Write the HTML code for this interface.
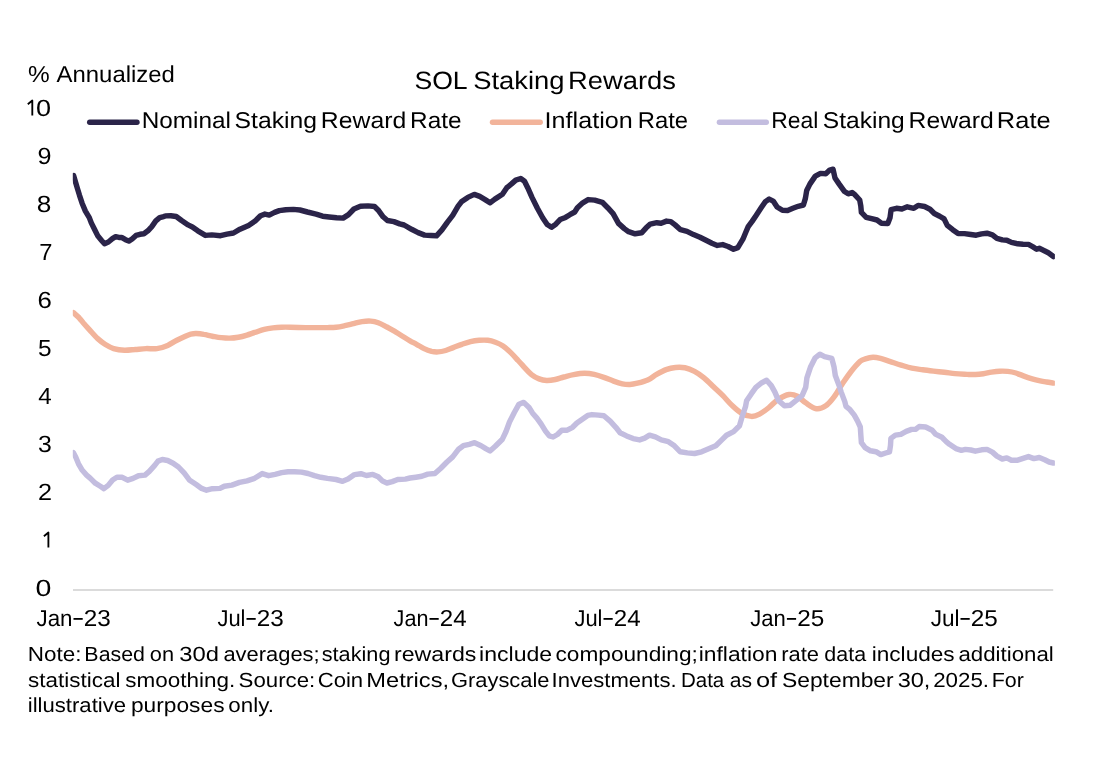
<!DOCTYPE html>
<html><head><meta charset="utf-8"><style>
html,body{margin:0;padding:0;background:#fff;}
svg{display:block;}
text{font-family:"Liberation Sans",sans-serif;fill:#000000;text-rendering:geometricPrecision;}
</style></head><body>
<svg width="1110" height="760" viewBox="0 0 1110 760">
<rect width="1110" height="760" fill="#fff"/>
<line x1="73" y1="590" x2="1053.2" y2="590" stroke="#dbdbdb" stroke-width="2"/>
<g fill="none" stroke-width="5.4" stroke-linecap="round">
<line x1="89.7" y1="122.3" x2="137" y2="122.3" stroke="#2b2449"/>
<line x1="492.5" y1="122.3" x2="540.2" y2="122.3" stroke="#f2b49b"/>
<line x1="719.4" y1="122.3" x2="766.3" y2="122.3" stroke="#c3bddf"/>
</g>
<clipPath id="pc"><rect x="72.8" y="0" width="982.1" height="760"/></clipPath>
<g fill="none" stroke-width="5.45" stroke-linejoin="round" stroke-linecap="round" clip-path="url(#pc)">
<path d="M73.3,312.6 C74.3,313.5 77.2,315.9 79.1,317.8 C81.0,319.8 82.5,322.0 84.5,324.3 C86.5,326.6 88.8,329.0 90.9,331.4 C93.1,333.8 95.1,336.2 97.4,338.4 C99.8,340.5 102.3,342.6 105.0,344.3 C107.7,346.0 110.3,347.6 113.6,348.6 C116.8,349.6 120.9,350.2 124.5,350.3 C128.1,350.4 131.7,349.8 135.3,349.5 C138.9,349.2 142.5,348.8 146.1,348.6 C149.7,348.5 153.3,349.1 156.9,348.6 C160.5,348.1 164.4,346.8 167.7,345.4 C170.9,344.0 173.4,342.0 176.4,340.5 C179.4,339.0 183.0,337.3 185.4,336.2 C187.8,335.1 189.0,334.6 190.8,334.1 C192.6,333.7 194.0,333.4 196.2,333.5 C198.4,333.6 201.1,333.9 203.8,334.4 C206.5,334.8 209.5,335.7 212.4,336.2 C215.3,336.7 218.2,337.3 221.1,337.6 C224.0,337.9 226.8,338.2 229.7,338.1 C232.6,338.1 235.5,337.8 238.4,337.3 C241.3,336.8 244.1,336.0 247.0,335.1 C249.9,334.2 252.8,333.1 255.7,332.2 C258.6,331.2 261.4,330.1 264.3,329.4 C267.2,328.7 270.1,328.3 273.0,327.9 C275.9,327.5 278.7,327.3 281.6,327.2 C284.5,327.1 286.3,327.1 290.3,327.2 C294.3,327.3 301.4,327.5 305.8,327.6 C310.2,327.7 313.0,327.6 316.6,327.6 C320.2,327.6 324.1,327.7 327.4,327.6 C330.6,327.5 333.2,327.5 336.1,327.2 C339.0,326.9 341.8,326.3 344.7,325.7 C347.6,325.1 350.5,324.3 353.4,323.6 C356.3,322.9 359.1,322.0 362.0,321.6 C364.9,321.2 368.0,320.9 370.7,321.1 C373.4,321.3 375.5,321.7 378.2,322.7 C380.9,323.7 384.0,325.5 386.9,327.0 C389.8,328.5 392.6,330.2 395.5,331.9 C398.4,333.6 401.8,335.8 404.2,337.3 C406.6,338.8 407.9,339.6 410.0,340.8 C412.1,342.0 414.1,343.0 416.5,344.3 C418.9,345.6 421.6,347.4 424.1,348.6 C426.6,349.8 429.3,350.8 431.6,351.4 C433.9,351.9 435.8,352.0 438.1,351.9 C440.5,351.8 443.2,351.2 445.7,350.5 C448.2,349.8 450.5,348.6 453.2,347.6 C455.9,346.6 459.0,345.3 461.9,344.3 C464.8,343.3 467.6,342.3 470.5,341.6 C473.4,340.9 476.3,340.5 479.2,340.3 C482.1,340.1 485.1,340.0 487.8,340.3 C490.5,340.6 492.9,341.3 495.4,342.2 C497.9,343.1 500.5,344.2 503.0,345.9 C505.5,347.6 508.0,350.0 510.5,352.4 C513.0,354.8 515.8,358.0 518.1,360.5 C520.5,363.0 522.4,365.2 524.6,367.6 C526.8,370.0 529.1,372.7 531.5,374.6 C533.9,376.5 536.6,377.9 539.1,378.9 C541.6,379.9 543.9,380.4 546.6,380.5 C549.3,380.6 552.4,380.1 555.3,379.5 C558.2,378.9 560.8,377.8 563.9,377.0 C567.0,376.2 570.2,375.2 573.6,374.6 C577.0,374.0 581.1,373.3 584.5,373.3 C587.9,373.3 591.0,373.7 594.2,374.4 C597.4,375.1 600.7,376.2 603.9,377.3 C607.1,378.4 610.5,380.0 613.6,381.1 C616.7,382.2 619.6,383.2 622.3,383.8 C625.0,384.4 627.4,384.6 629.9,384.5 C632.4,384.4 634.3,384.0 637.4,383.2 C640.5,382.4 645.1,381.2 648.3,379.7 C651.5,378.2 653.6,376.1 656.6,374.4 C659.6,372.7 663.0,370.8 666.1,369.6 C669.2,368.5 672.4,367.8 675.5,367.5 C678.6,367.2 681.8,367.2 685.0,367.8 C688.2,368.4 691.3,369.7 694.5,371.4 C697.7,373.1 700.8,375.3 704.0,377.9 C707.2,380.5 710.4,383.8 713.5,386.8 C716.6,389.8 719.8,392.5 722.9,395.7 C726.0,398.9 729.2,402.8 732.4,405.8 C735.6,408.8 738.7,411.7 741.9,413.5 C745.1,415.3 748.5,416.3 751.4,416.4 C754.3,416.5 756.6,415.6 759.5,414.1 C762.4,412.6 765.9,410.0 769.0,407.5 C772.1,405.0 775.0,401.4 778.4,399.2 C781.8,397.0 785.9,395.0 789.1,394.5 C792.3,394.0 794.6,394.9 797.4,396.3 C800.2,397.7 802.5,400.7 805.7,402.8 C808.9,404.9 813.0,408.2 816.4,408.7 C819.8,409.2 822.8,407.8 825.8,405.8 C828.8,403.8 831.3,400.6 834.1,396.9 C836.9,393.2 839.6,387.9 842.4,383.8 C845.2,379.7 847.7,375.8 850.7,372.0 C853.7,368.2 857.8,363.5 860.2,361.3 C862.7,359.1 863.3,359.6 865.4,358.9 C867.5,358.2 870.5,357.4 873.0,357.3 C875.5,357.2 877.6,357.7 880.5,358.4 C883.4,359.1 886.9,360.5 890.3,361.6 C893.7,362.7 897.5,364.0 901.1,365.1 C904.7,366.2 908.3,367.4 911.9,368.2 C915.5,369.0 919.1,369.3 922.7,369.8 C926.3,370.3 929.9,370.7 933.5,371.1 C937.1,371.5 940.7,371.9 944.3,372.3 C947.9,372.7 951.3,373.2 955.1,373.6 C958.9,374.0 963.8,374.2 967.2,374.4 C970.6,374.5 972.6,374.6 975.3,374.5 C978.0,374.4 980.7,374.1 983.4,373.7 C986.1,373.3 988.8,372.5 991.5,372.1 C994.2,371.7 996.9,371.3 999.6,371.2 C1002.3,371.1 1005.0,371.1 1007.7,371.4 C1010.4,371.7 1013.2,372.2 1015.9,373.0 C1018.6,373.8 1021.3,375.1 1024.0,376.1 C1026.7,377.1 1029.4,378.0 1032.1,378.8 C1034.8,379.6 1037.8,380.3 1040.2,380.8 C1042.6,381.3 1044.3,381.6 1046.5,382.0 C1048.7,382.4 1052.2,382.9 1053.4,383.1" stroke="#f2b49b"/>
<path d="M73.3,452.6 L75.8,457.3 L78.5,463.8 L82.3,470.3 L86.6,475.1 L90.4,478.4 L95.3,483.2 L100.7,486.5 L103.9,488.6 L108.2,485.4 L112.6,480.0 L116.9,477.3 L122.3,477.3 L127.7,480.2 L133.1,478.4 L138.5,475.7 L145.0,475.1 L149.3,471.4 L154.7,465.4 L158.0,461.1 L162.3,459.5 L167.7,460.5 L173.1,463.2 L178.5,467.0 L184.3,473.2 L189.7,480.3 L196.2,484.6 L201.6,488.4 L206.5,490.2 L212.4,488.7 L220.0,488.4 L224.3,486.2 L231.9,485.1 L239.5,482.4 L247.0,480.8 L254.6,478.3 L262.2,473.6 L268.6,475.7 L275.1,474.3 L281.6,472.6 L288.1,471.7 L294.6,471.8 L301.5,472.1 L308.0,473.5 L314.5,475.7 L320.9,477.3 L327.4,478.4 L336.1,479.5 L342.6,481.3 L348.0,479.1 L354.5,474.6 L360.9,473.7 L366.4,475.5 L372.8,474.4 L378.2,476.8 L382.6,481.1 L386.9,483.0 L392.3,481.6 L397.7,479.5 L405.3,479.1 L410.0,478.0 L415.9,477.2 L421.8,476.3 L427.8,474.1 L434.9,473.5 L440.8,468.2 L446.7,462.3 L452.7,456.9 L458.6,449.2 L463.3,445.7 L469.2,444.3 L474.6,442.7 L481.1,445.7 L485.8,448.6 L490.0,451.0 L495.3,446.3 L502.4,439.2 L506.0,431.5 L509.5,422.0 L514.3,412.5 L519.0,404.2 L523.7,402.4 L529.3,407.8 L532.6,413.2 L536.9,418.1 L541.2,424.1 L545.5,431.1 L549.3,435.9 L553.1,437.0 L557.4,434.5 L561.8,430.2 L567.2,430.2 L572.6,427.3 L576.9,423.0 L582.3,419.2 L587.7,415.4 L592.0,414.6 L598.5,415.1 L603.9,415.7 L610.4,421.4 L615.8,427.3 L620.1,432.7 L626.6,435.9 L633.1,438.6 L639.6,439.9 L644.7,438.1 L649.5,435.2 L655.4,436.9 L661.3,439.9 L668.4,441.7 L674.4,445.8 L680.3,451.8 L687.4,452.9 L694.5,453.5 L701.6,451.8 L708.7,448.8 L715.8,445.8 L721.8,439.9 L726.5,435.2 L733.6,431.6 L739.5,425.7 L741.9,417.4 L745.5,406.7 L746.6,400.8 L751.4,393.7 L755.9,387.4 L761.8,382.7 L766.6,380.3 L771.3,385.6 L774.9,392.1 L778.4,400.4 L784.4,405.8 L790.3,405.2 L796.2,400.4 L802.1,395.7 L805.7,387.4 L806.9,377.9 L810.4,367.3 L815.2,357.8 L819.9,354.2 L824.6,356.6 L831.8,358.4 L834.1,367.3 L835.3,375.5 L838.9,385.0 L841.2,392.1 L844.8,401.6 L846.0,406.4 L850.0,409.7 L854.3,415.1 L857.6,421.1 L860.3,427.0 L860.8,434.6 L861.4,442.7 L865.1,447.6 L870.5,450.8 L876.0,451.7 L880.8,454.6 L885.7,453.0 L889.5,451.9 L890.5,445.4 L890.9,438.4 L895.4,435.1 L900.8,434.4 L906.2,431.4 L911.6,429.4 L915.9,429.2 L919.2,426.5 L925.7,427.0 L932.2,430.3 L935.4,434.1 L941.9,437.3 L946.2,441.6 L949.5,444.3 L955.9,448.6 L961.4,450.3 L965.4,449.4 L970.8,450.0 L975.3,451.2 L981.6,449.8 L987.0,449.4 L992.4,452.1 L996.9,456.1 L1002.3,459.0 L1006.8,457.9 L1011.4,460.2 L1017.7,460.2 L1023.1,458.4 L1028.5,456.6 L1033.9,458.6 L1039.3,457.5 L1044.7,459.7 L1049.2,462.0 L1053.4,463.0" stroke="#c3bddf"/>
<path d="M73.6,175.5 L75.5,182.1 L77.5,188.7 L79.5,195.3 L82.1,203.2 L85.4,211.1 L89.3,217.6 L91.3,222.9 L94.6,229.5 L97.9,236.1 L101.8,240.7 L104.5,243.7 L108.4,242.0 L112.4,238.7 L115.7,236.7 L118.9,237.4 L121.6,237.4 L125.5,239.7 L128.8,241.1 L132.1,239.0 L136.0,235.4 L140.0,234.3 L143.9,233.7 L147.9,230.8 L151.8,226.6 L155.8,220.9 L159.7,217.6 L163.7,216.6 L165.4,215.9 L170.8,215.7 L176.2,216.5 L181.6,220.5 L188.1,224.9 L192.4,227.0 L197.8,230.8 L205.4,235.4 L211.9,234.9 L220.5,235.7 L227.0,234.1 L233.5,233.0 L240.0,229.2 L248.6,225.4 L255.1,221.1 L260.5,215.7 L264.9,214.1 L269.2,215.1 L274.6,212.4 L279.3,210.6 L285.8,209.8 L293.4,209.4 L299.9,210.0 L307.4,212.0 L316.1,214.1 L322.6,216.2 L329.1,217.0 L336.6,217.8 L343.1,218.1 L348.5,214.6 L353.9,209.0 L360.4,206.3 L368.0,205.9 L374.5,206.5 L378.8,210.8 L383.1,216.8 L387.4,220.5 L393.9,221.6 L399.7,223.9 L404.1,225.0 L411.6,229.3 L418.1,232.6 L424.6,235.1 L431.1,235.5 L436.5,235.8 L441.9,229.9 L447.3,222.3 L452.7,215.3 L458.1,206.1 L461.4,201.8 L467.8,197.4 L474.3,194.4 L479.7,196.4 L485.1,199.6 L490.0,202.8 L494.9,199.1 L502.4,194.2 L506.8,187.7 L508.2,186.6 L511.5,183.9 L515.8,180.1 L520.7,178.5 L524.5,181.2 L527.7,187.7 L532.0,197.4 L537.4,208.2 L542.8,218.0 L547.2,224.5 L551.5,227.2 L555.8,224.2 L560.1,219.6 L565.5,217.4 L569.9,214.7 L574.7,212.0 L577.4,207.7 L582.8,202.8 L588.2,199.6 L594.7,200.1 L602.3,202.3 L607.7,207.7 L613.1,213.6 L618.5,223.4 L624.3,228.6 L628.6,231.7 L635.1,233.8 L641.6,232.8 L645.9,228.1 L650.3,224.1 L656.8,222.7 L661.1,223.2 L666.5,221.1 L670.8,221.6 L675.1,224.9 L680.5,229.7 L687.0,231.4 L693.5,234.6 L700.0,237.3 L706.5,240.5 L711.9,243.2 L717.3,245.4 L722.7,244.6 L728.1,246.5 L733.5,249.2 L737.8,247.6 L742.9,239.2 L746.2,231.3 L748.2,226.7 L752.1,221.4 L756.1,215.5 L761.3,207.6 L765.3,201.7 L769.2,199.1 L773.2,201.1 L777.1,207.0 L782.4,210.3 L787.6,210.5 L792.9,208.3 L798.2,206.3 L803.4,205.0 L805.4,198.4 L806.7,190.5 L810.0,183.9 L815.3,176.1 L820.5,173.4 L825.8,173.7 L829.7,170.1 L833.0,169.2 L835.0,178.0 L839.0,183.9 L844.2,191.2 L848.2,193.8 L852.1,192.5 L854.3,194.1 L859.7,200.0 L860.8,206.0 L861.4,212.4 L866.2,217.3 L871.6,218.7 L877.0,220.0 L881.4,223.2 L887.8,223.5 L890.0,217.8 L891.1,209.7 L896.5,208.3 L901.9,209.0 L907.3,206.8 L913.8,208.3 L918.1,205.4 L924.6,206.5 L930.0,209.2 L934.3,213.5 L939.7,216.2 L944.1,218.9 L947.3,225.4 L952.7,229.7 L958.1,233.5 L964.5,233.6 L970.8,234.5 L976.2,235.2 L981.6,233.9 L987.0,233.2 L992.4,234.8 L996.9,238.4 L1002.3,239.9 L1006.8,240.2 L1011.4,242.4 L1017.7,243.8 L1023.1,244.2 L1028.5,244.4 L1033.0,246.9 L1036.6,249.2 L1039.3,248.3 L1043.8,250.5 L1048.3,252.8 L1053.4,256.5" stroke="#2b2449"/>
</g>
<g style="filter:grayscale(1)">
<text x="27.95" y="81.60" font-size="23.0" textLength="21.69" lengthAdjust="spacingAndGlyphs">%</text>
<text x="56.60" y="81.60" font-size="23.0" textLength="118.24" lengthAdjust="spacingAndGlyphs">Annualized</text>
<text x="414.40" y="88.90" font-size="25.1" textLength="53.22" lengthAdjust="spacingAndGlyphs">SOL</text>
<text x="473.17" y="88.90" font-size="25.1" textLength="91.33" lengthAdjust="spacingAndGlyphs">Staking</text>
<text x="568.01" y="88.90" font-size="25.1" textLength="107.87" lengthAdjust="spacingAndGlyphs">Rewards</text>
<path d="M27.80,104.20 L32.30,100.50 L32.30,115.40" fill="none" stroke="#000000" stroke-width="1.85" stroke-linejoin="round"/>
<text x="35.92" y="115.70" font-size="23.4" textLength="15.06" lengthAdjust="spacingAndGlyphs">0</text>
<text x="37.47" y="163.70" font-size="23.4" textLength="13.99" lengthAdjust="spacingAndGlyphs">9</text>
<text x="36.72" y="211.70" font-size="23.4" textLength="14.56" lengthAdjust="spacingAndGlyphs">8</text>
<text x="39.21" y="259.70" font-size="23.4" textLength="13.20" lengthAdjust="spacingAndGlyphs">7</text>
<text x="37.41" y="307.70" font-size="23.4" textLength="14.35" lengthAdjust="spacingAndGlyphs">6</text>
<text x="37.92" y="355.70" font-size="23.4" textLength="13.58" lengthAdjust="spacingAndGlyphs">5</text>
<text x="38.22" y="403.70" font-size="23.4" textLength="13.44" lengthAdjust="spacingAndGlyphs">4</text>
<text x="38.11" y="451.70" font-size="23.4" textLength="13.82" lengthAdjust="spacingAndGlyphs">3</text>
<text x="38.14" y="499.70" font-size="23.4" textLength="14.06" lengthAdjust="spacingAndGlyphs">2</text>
<path d="M43.90,536.20 L48.40,532.50 L48.40,547.40" fill="none" stroke="#000000" stroke-width="1.85" stroke-linejoin="round"/>
<text x="35.56" y="595.70" font-size="23.4" textLength="15.87" lengthAdjust="spacingAndGlyphs">0</text>
<text x="36.46" y="626.00" font-size="23.0" textLength="36.04" lengthAdjust="spacingAndGlyphs">Jan</text>
<text x="83.78" y="626.00" font-size="23.0" textLength="27.05" lengthAdjust="spacingAndGlyphs">23</text>
<rect x="73.50" y="618.0" width="9.2" height="1.8" fill="#000000"/>
<text x="217.47" y="626.00" font-size="23.0" textLength="28.03" lengthAdjust="spacingAndGlyphs">Jul</text>
<text x="256.78" y="626.00" font-size="23.0" textLength="27.05" lengthAdjust="spacingAndGlyphs">23</text>
<rect x="246.50" y="618.0" width="9.2" height="1.8" fill="#000000"/>
<text x="393.58" y="626.00" font-size="23.0" textLength="34.88" lengthAdjust="spacingAndGlyphs">Jan</text>
<text x="439.80" y="626.00" font-size="23.0" textLength="26.78" lengthAdjust="spacingAndGlyphs">24</text>
<rect x="429.50" y="618.0" width="9.2" height="1.8" fill="#000000"/>
<text x="574.47" y="626.00" font-size="23.0" textLength="28.03" lengthAdjust="spacingAndGlyphs">Jul</text>
<text x="613.80" y="626.00" font-size="23.0" textLength="26.78" lengthAdjust="spacingAndGlyphs">24</text>
<rect x="603.50" y="618.0" width="9.2" height="1.8" fill="#000000"/>
<text x="750.27" y="626.00" font-size="23.0" textLength="35.62" lengthAdjust="spacingAndGlyphs">Jan</text>
<text x="797.18" y="626.00" font-size="23.0" textLength="27.05" lengthAdjust="spacingAndGlyphs">25</text>
<rect x="786.90" y="618.0" width="9.2" height="1.8" fill="#000000"/>
<text x="930.66" y="626.00" font-size="23.0" textLength="28.88" lengthAdjust="spacingAndGlyphs">Jul</text>
<text x="970.78" y="626.00" font-size="23.0" textLength="27.05" lengthAdjust="spacingAndGlyphs">25</text>
<rect x="960.50" y="618.0" width="9.2" height="1.8" fill="#000000"/>
<text x="141.65" y="127.50" font-size="22.8" textLength="89.20" lengthAdjust="spacingAndGlyphs">Nominal</text>
<text x="234.59" y="127.50" font-size="22.8" textLength="82.43" lengthAdjust="spacingAndGlyphs">Staking</text>
<text x="320.82" y="127.50" font-size="22.8" textLength="85.42" lengthAdjust="spacingAndGlyphs">Reward</text>
<text x="410.05" y="127.50" font-size="22.8" textLength="51.51" lengthAdjust="spacingAndGlyphs">Rate</text>
<text x="544.63" y="127.50" font-size="22.8" textLength="88.16" lengthAdjust="spacingAndGlyphs">Inflation</text>
<text x="637.79" y="127.50" font-size="22.8" textLength="50.33" lengthAdjust="spacingAndGlyphs">Rate</text>
<text x="771.17" y="127.50" font-size="22.8" textLength="47.16" lengthAdjust="spacingAndGlyphs">Real</text>
<text x="822.89" y="127.50" font-size="22.8" textLength="81.91" lengthAdjust="spacingAndGlyphs">Staking</text>
<text x="908.62" y="127.50" font-size="22.8" textLength="85.21" lengthAdjust="spacingAndGlyphs">Reward</text>
<text x="996.86" y="127.50" font-size="22.8" textLength="53.74" lengthAdjust="spacingAndGlyphs">Rate</text>
<text x="27.80" y="661.40" font-size="20.4" textLength="53.63" lengthAdjust="spacingAndGlyphs">Note:</text>
<text x="84.39" y="661.40" font-size="20.4" textLength="60.61" lengthAdjust="spacingAndGlyphs">Based</text>
<text x="149.83" y="661.40" font-size="20.4" textLength="24.24" lengthAdjust="spacingAndGlyphs">on</text>
<text x="179.25" y="661.40" font-size="20.4" textLength="39.68" lengthAdjust="spacingAndGlyphs">30d</text>
<text x="223.42" y="661.40" font-size="20.4" textLength="96.28" lengthAdjust="spacingAndGlyphs">averages;</text>
<text x="321.75" y="661.40" font-size="20.4" textLength="68.74" lengthAdjust="spacingAndGlyphs">staking</text>
<text x="393.99" y="661.40" font-size="20.4" textLength="82.36" lengthAdjust="spacingAndGlyphs">rewards</text>
<text x="479.10" y="661.40" font-size="20.4" textLength="73.12" lengthAdjust="spacingAndGlyphs">include</text>
<text x="555.49" y="661.40" font-size="20.4" textLength="142.39" lengthAdjust="spacingAndGlyphs">compounding;</text>
<text x="698.72" y="661.40" font-size="20.4" textLength="78.71" lengthAdjust="spacingAndGlyphs">inflation</text>
<text x="781.27" y="661.40" font-size="20.4" textLength="37.78" lengthAdjust="spacingAndGlyphs">rate</text>
<text x="824.34" y="661.40" font-size="20.4" textLength="41.79" lengthAdjust="spacingAndGlyphs">data</text>
<text x="871.73" y="661.40" font-size="20.4" textLength="82.94" lengthAdjust="spacingAndGlyphs">includes</text>
<text x="958.51" y="661.40" font-size="20.4" textLength="95.27" lengthAdjust="spacingAndGlyphs">additional</text>
<text x="28.13" y="686.70" font-size="20.4" textLength="92.28" lengthAdjust="spacingAndGlyphs">statistical</text>
<text x="125.33" y="686.70" font-size="20.4" textLength="109.94" lengthAdjust="spacingAndGlyphs">smoothing.</text>
<text x="238.60" y="686.70" font-size="20.4" textLength="76.63" lengthAdjust="spacingAndGlyphs">Source:</text>
<text x="317.69" y="686.70" font-size="20.4" textLength="45.48" lengthAdjust="spacingAndGlyphs">Coin</text>
<text x="366.31" y="686.70" font-size="20.4" textLength="82.82" lengthAdjust="spacingAndGlyphs">Metrics,</text>
<text x="451.01" y="686.70" font-size="20.4" textLength="98.51" lengthAdjust="spacingAndGlyphs">Grayscale</text>
<text x="551.51" y="686.70" font-size="20.4" textLength="125.16" lengthAdjust="spacingAndGlyphs">Investments.</text>
<text x="680.96" y="686.70" font-size="20.4" textLength="43.29" lengthAdjust="spacingAndGlyphs">Data</text>
<text x="729.66" y="686.70" font-size="20.4" textLength="22.31" lengthAdjust="spacingAndGlyphs">as</text>
<text x="755.98" y="686.70" font-size="20.4" textLength="21.19" lengthAdjust="spacingAndGlyphs">of</text>
<text x="781.97" y="686.70" font-size="20.4" textLength="111.71" lengthAdjust="spacingAndGlyphs">September</text>
<text x="897.66" y="686.70" font-size="20.4" textLength="32.77" lengthAdjust="spacingAndGlyphs">30,</text>
<text x="933.18" y="686.70" font-size="20.4" textLength="55.88" lengthAdjust="spacingAndGlyphs">2025.</text>
<text x="991.79" y="686.70" font-size="20.4" textLength="32.14" lengthAdjust="spacingAndGlyphs">For</text>
<text x="27.76" y="711.70" font-size="20.4" textLength="98.35" lengthAdjust="spacingAndGlyphs">illustrative</text>
<text x="130.92" y="711.70" font-size="20.4" textLength="93.65" lengthAdjust="spacingAndGlyphs">purposes</text>
<text x="228.31" y="711.70" font-size="20.4" textLength="45.58" lengthAdjust="spacingAndGlyphs">only.</text>
</g>
</svg>
</body></html>
